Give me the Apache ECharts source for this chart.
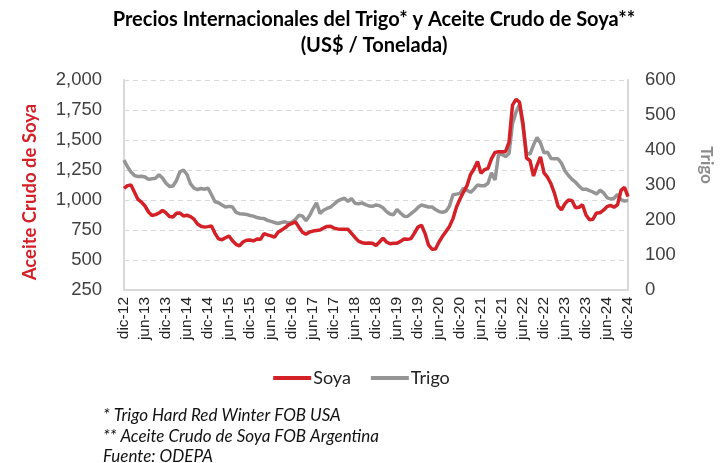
<!DOCTYPE html>
<html><head><meta charset="utf-8">
<script src="https://cdn.jsdelivr.net/npm/echarts@6/dist/echarts.min.js"></script>
<style>html,body{margin:0;padding:0;background:#fff}#c{width:723px;height:463px}</style>
</head><body><div id="c"></div>
<script>
const MONTHS = ['ene','feb','mar','abr','may','jun','jul','ago','sep','oct','nov','dic'];
const START_YEAR = 2012, START_MONTH = 11, N_MONTHS = 145;
const categories = [];
for (let k = 0; k < N_MONTHS; k++) {
  const m = (START_MONTH + k) % 12, y = START_YEAR + Math.floor((START_MONTH + k) / 12);
  categories.push(MONTHS[m] + '-' + String(y).slice(2));
}
const soya = [1097,1120,1125,1065,1005,982,950,900,871,878,892,912,893,862,858,890,891,867,873,862,840,800,781,774,778,783,722,676,669,685,700,660,631,618,650,665,667,659,675,672,720,710,701,690,732,749,768,793,806,818,772,732,714,733,741,746,750,766,780,781,766,759,757,757,756,722,688,657,644,639,642,640,621,650,683,650,635,639,639,655,675,672,678,725,775,790,722,625,590,592,650,697,738,780,845,942,1008,1066,1120,1212,1258,1320,1222,1253,1263,1345,1396,1403,1403,1403,1480,1790,1839,1815,1640,1350,1328,1200,1288,1360,1226,1190,1135,1055,950,917,970,1000,995,935,940,960,875,835,840,892,894,915,945,955,940,960,1080,1105,1028];
const trigo = [371,352,337,327,324,325,323,316,318,319,329,320,305,296,297,313,338,343,330,303,291,287,290,288,291,272,252,249,243,237,239,237,222,218,217,216,213,211,207,205,204,199,196,193,190,193,195,191,194,202,214,211,198,212,232,249,219,228,233,237,245,254,259,262,253,261,248,246,249,244,240,239,243,241,235,224,217,215,230,220,211,210,218,226,236,243,240,237,237,230,224,222,225,240,272,274,276,291,285,279,288,300,298,298,305,335,314,386,388,381,390,475,508,530,465,392,388,414,436,420,392,394,376,375,375,362,340,327,316,308,297,288,288,284,280,274,285,278,264,260,262,273,258,254,256];
const leftTicks = {min:250, max:2000, step:250};
const rightTicks = {min:0, max:600, step:100};
const titleLines = ['Precios Internacionales del Trigo* y Aceite Crudo de Soya**','(US$ / Tonelada)'];
const leftName = 'Aceite Crudo de Soya', rightName = 'Trigo';
const notes = ['* Trigo Hard Red Winter FOB USA','** Aceite Crudo de Soya FOB Argentina','Fuente: ODEPA'];

const chart = echarts.init(document.getElementById('c'), null, {renderer:'canvas'});
const tickFont = {fontFamily:'Liberation Sans, Arial, sans-serif', fontSize:18.5, color:'#404040'};
chart.setOption({
  animation:false,
  title:{text:titleLines.join('\n'), left:369, top:2, textAlign:'center',
    textStyle:{fontFamily:'Lato', fontWeight:'bold', fontSize:20, lineHeight:26, color:'#000'}},
  grid:{left:124, right:95, top:80, bottom:173, containLabel:false},
  legend:{bottom:71, left:'center', itemWidth:38, itemHeight:4, itemGap:20, icon:'rect',
    textStyle:{fontFamily:'Lato', fontSize:18, color:'#222', padding:[0,0,0,-3]},
    data:['Soya','Trigo']},
  xAxis:{type:'category', data:categories, boundaryGap:false,
    axisLine:{lineStyle:{color:'#d9d9d9', width:2}}, axisTick:{show:false},
    axisLabel:Object.assign({}, tickFont, {fontSize:15.5, rotate:90, interval:5, margin:7, color:'#222'}),
    splitLine:{show:false}},
  yAxis:[
    {type:'value', min:leftTicks.min, max:leftTicks.max, interval:leftTicks.step, position:'left',
     axisLine:{show:true, lineStyle:{color:'#d9d9d9', width:2}}, axisTick:{show:false},
     axisLabel:Object.assign({}, tickFont, {margin:22, formatter:v=>v.toLocaleString('en-US')}),
     splitLine:{show:true, lineStyle:{color:'#d9d9d9', type:[5,4], width:1}}},
    {type:'value', min:rightTicks.min, max:rightTicks.max, interval:rightTicks.step, position:'right',
     axisLine:{show:true, lineStyle:{color:'#d9d9d9', width:2}}, axisTick:{show:false},
     axisLabel:Object.assign({}, tickFont, {margin:17}),
     splitLine:{show:false}}
  ],
  series:[
    {name:'Soya', type:'line', data:soya, yAxisIndex:0, showSymbol:false, symbol:'none', z:3,
     lineStyle:{color:'#d42027', width:3.5}, itemStyle:{color:'#d42027'}},
    {name:'Trigo', type:'line', data:trigo, yAxisIndex:1, showSymbol:false, symbol:'none', z:2,
     lineStyle:{color:'#959595', width:3.5}, itemStyle:{color:'#959595'}}
  ],
  graphic: [
    {type:'text', x:30, y:192, rotation:Math.PI/2,
     style:{text:leftName, font:'bold 18.5px Lato', fill:'#d42027', align:'center', verticalAlign:'middle'}},
    {type:'text', x:706, y:165, rotation:-Math.PI/2,
     style:{text:rightName, font:'bold 17px Lato', fill:'#8c8c8c', align:'center', verticalAlign:'middle'}}
  ].concat(notes.map((t,i)=>({type:'text', x:103, y:416+i*20.5,
    style:{text:t, font:'italic 17px Lato', fill:'#111', verticalAlign:'middle'}})))
});
</script></body></html>
